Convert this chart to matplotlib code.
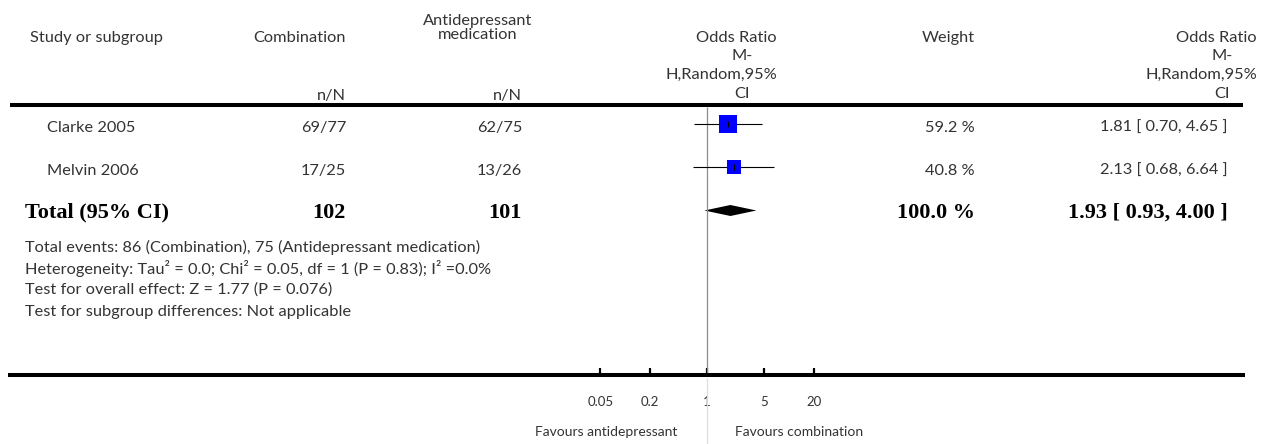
import matplotlib
matplotlib.use("Agg")
import matplotlib.pyplot as plt
import numpy as np

plt.rcParams["font.family"] = ["Lato", "DejaVu Sans"]

# --- data -------------------------------------------------------------------
studies = ["Clarke 2005", "Melvin 2006"]
comb_events = [69, 17]
comb_total = [77, 25]
anti_events = [62, 13]
anti_total = [75, 26]
odds_ratio = [1.81, 2.13]
ci_low = [0.70, 0.68]
ci_high = [4.65, 6.64]
weights = [59.2, 40.8]

total_or = 1.93
total_low = 0.93
total_high = 4.00

tick_values = [0.05, 0.2, 1, 5, 20]
tick_labels = ["0.05", "0.2", "1", "5", "20"]

footer_lines = [
    "Total events: 86 (Combination), 75 (Antidepressant medication)",
    "Heterogeneity: Tau² = 0.0; Chi² = 0.05, df = 1 (P = 0.83); I² =0.0%",
    "Test for overall effect: Z = 1.77 (P = 0.076)",
    "Test for subgroup differences: Not applicable",
]

# --- layout (pixels) --------------------------------------------------------
W, H = 1271, 444
X_NULL = 707          # pixel column of OR = 1
PX_DECADE = 82        # pixels per log10 unit
AXIS_Y = 375
LINE_L, LINE_R = 10, 1243
ROW_Y = [124, 167]
TOTAL_Y = 210.5
FOOT_Y = [247, 268.5, 290, 311.5]
TXT = "#333333"
FS = 11.8

fig = plt.figure(figsize=(W / 100, H / 100), dpi=100)

# table overlay in pixel coordinates
tab = fig.add_axes([0, 0, 1, 1])
tab.set_xlim(0, W)
tab.set_ylim(H, 0)
tab.axis("off")

# forest axes, log scale, bottom spine is the drawn axis
ax = fig.add_axes([LINE_L / W, (H - AXIS_Y) / H, (LINE_R - LINE_L) / W, AXIS_Y / H])
ax.set_xscale("log")
ax.set_xlim(10 ** ((LINE_L - X_NULL) / PX_DECADE), 10 ** ((LINE_R - X_NULL) / PX_DECADE))
ax.set_ylim(AXIS_Y, 0)
ax.patch.set_alpha(0)
for side in ["top", "left", "right"]:
    ax.spines[side].set_visible(False)
ax.spines["bottom"].set_linewidth(2.9)
ax.set_yticks([])
ax.set_xticks(tick_values)
ax.set_xticklabels(tick_labels)
ax.xaxis.set_minor_locator(matplotlib.ticker.NullLocator())
ax.tick_params(axis="x", direction="in", length=5, width=1.6, pad=15,
               labelsize=9.5, labelcolor=TXT)

# null line
ax.vlines(1, 107, AXIS_Y, color="#8c8c8c", lw=0.9)
ax.vlines(1, AXIS_Y + 3, H, color="#dddddd", lw=0.9, clip_on=False)

# header
tab.hlines(105.5, LINE_L, LINE_R, color="black", lw=2.9)
tab.text(30, 38, "Study or subgroup", ha="left", va="center", fontsize=FS, color=TXT)
tab.text(346, 38, "Combination", ha="right", va="center", fontsize=FS, color=TXT)
tab.text(478, 28, "Antidepressant\nmedication", ha="center", va="center",
         fontsize=FS, color=TXT, linespacing=1.05)
tab.text(346, 96, "n/N", ha="right", va="center", fontsize=FS, color=TXT)
tab.text(522, 96, "n/N", ha="right", va="center", fontsize=FS, color=TXT)
for cx in [742, 1222]:
    right = cx + 35
    tab.text(right, 38, "Odds Ratio", ha="right", va="center", fontsize=FS, color=TXT)
    tab.text(cx, 56, "M-", ha="center", va="center", fontsize=FS, color=TXT)
    tab.text(right, 75, "H,Random,95%", ha="right", va="center", fontsize=FS, color=TXT)
    tab.text(cx, 94, "CI", ha="center", va="center", fontsize=FS, color=TXT)
tab.text(975, 38, "Weight", ha="right", va="center", fontsize=FS, color=TXT)

# study rows
for i, name in enumerate(studies):
    y = ROW_Y[i]
    ty = y + 4
    tab.text(47, ty, name, ha="left", va="center", fontsize=FS, color=TXT)
    tab.text(346, ty, f"{comb_events[i]}/{comb_total[i]}", ha="right", va="center",
             fontsize=FS, color=TXT)
    tab.text(522, ty, f"{anti_events[i]}/{anti_total[i]}", ha="right", va="center",
             fontsize=FS, color=TXT)
    tab.text(975, ty, f"{weights[i]:.1f} %", ha="right", va="center", fontsize=FS, color=TXT)
    tab.text(1228, ty, f"{odds_ratio[i]:.2f} [ {ci_low[i]:.2f}, {ci_high[i]:.2f} ]",
             ha="right", va="center", fontsize=FS, color=TXT)

    ax.hlines(y, ci_low[i], ci_high[i], color="black", lw=0.8)
    side = 2.21 * np.sqrt(weights[i]) * 0.72
    ax.plot(odds_ratio[i], y, marker="s", ms=side, color="#0000ff", mew=0)
    ax.plot(odds_ratio[i], y, marker="|", ms=5, color="black", mew=0.8)

# total row
bold = dict(family=["Liberation Serif", "DejaVu Serif"], fontweight="bold",
            fontsize=16, color="black", va="center")
ty = TOTAL_Y + 2
tab.text(25, ty, "Total (95% CI)", ha="left", **bold)
tab.text(346, ty, f"{sum(comb_total)}", ha="right", **bold)
tab.text(522, ty, f"{sum(anti_total)}", ha="right", **bold)
tab.text(975, ty, f"{sum(weights):.1f} %", ha="right", **bold)
tab.text(1228, ty, f"{total_or:.2f} [ {total_low:.2f}, {total_high:.2f} ]", ha="right", **bold)

ax.fill([total_low, total_or, total_high, total_or],
        [TOTAL_Y, TOTAL_Y - 5.5, TOTAL_Y, TOTAL_Y + 5.5], color="black", lw=0)

for line, y in zip(footer_lines, FOOT_Y):
    tab.text(25, y, line, ha="left", va="center", fontsize=FS, color=TXT)

# favours labels
tab.text(X_NULL - 30, 432, "Favours antidepressant", ha="right", va="center",
         fontsize=10, color=TXT)
tab.text(X_NULL + 28, 432, "Favours combination", ha="left", va="center",
         fontsize=10, color=TXT)

fig.savefig("out.png", dpi=100)
